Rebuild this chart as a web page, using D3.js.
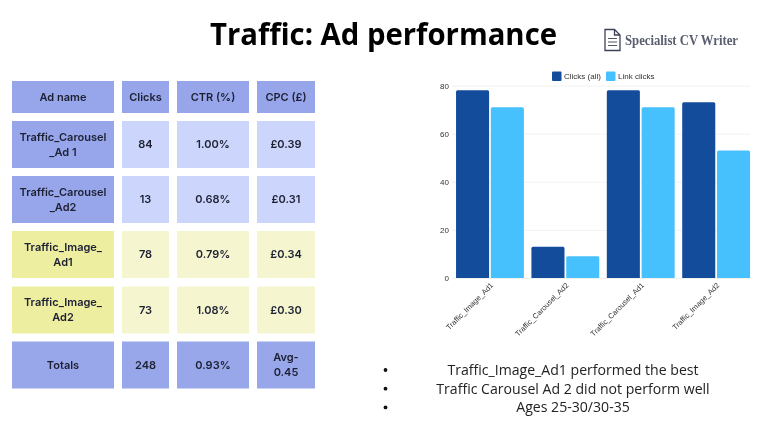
<!DOCTYPE html>
<html>
<head>
<meta charset="utf-8">
<script src="https://cdn.jsdelivr.net/npm/d3@7/dist/d3.min.js"></script>
<style>
  html, body { margin: 0; padding: 0; background: #fff; }
  svg { display: block; filter: blur(0.35px); }
  text { font-family: "Inter", "Open Sans", sans-serif; }
</style>
</head>
<body>
<script>
var titleText = "Traffic: Ad performance";
var logoText = "Specialist CV Writer";

// table
var tableHead = ["Ad name", "Clicks", "CTR (%)", "CPC (£)"];
var adNames = [["Traffic_Carousel", "_Ad 1"], ["Traffic_Carousel", "_Ad2"], ["Traffic_Image_", "Ad1"], ["Traffic_Image_", "Ad2"], ["Totals"]];
var clicks = ["84", "13", "78", "73", "248"];
var ctr = ["1.00%", "0.68%", "0.79%", "1.08%", "0.93%"];
var cpc = [["£0.39"], ["£0.31"], ["£0.34"], ["£0.30"], ["Avg-", "0.45"]];
var rowKind = ["blue", "blue", "yellow", "yellow", "total"];

// chart
var categories = ["Traffic_Image_Ad1", "Traffic_Carousel_Ad2", "Traffic_Carousel_Ad1", "Traffic_Image_Ad2"];
var seriesNames = ["Clicks (all)", "Link clicks"];
var clicksAll = [78, 13, 78, 73];
var linkClicks = [71, 9, 71, 53];
var yTicks = [0, 20, 40, 60, 80];

var notes = ["Traffic_Image_Ad1 performed the best", "Traffic Carousel Ad 2 did not perform well", "Ages 25-30/30-35"];

var svg = d3.select("body").append("svg").attr("width", 768).attr("height", 432);

svg.append("text")
  .attr("x", 210).attr("y", 45)
  .style("font-family", "'Open Sans'")
  .style("font-size", "31px").style("font-weight", 700)
  .attr("fill", "#000")
  .attr("textLength", 347).attr("lengthAdjust", "spacingAndGlyphs")
  .text(titleText);

// logo
var logo = svg.append("g").attr("fill", "none").attr("stroke", "#3d4357").attr("stroke-width", 1.3);
logo.append("path").attr("d", "M605 29.5 H614.5 L620 35 V50.5 H605 Z M614.5 29.5 V35 H620");
logo.append("path").attr("d", "M608 38.5 H617 M608 42 H617 M608 45.5 H617").attr("stroke-width", 0.9);
svg.append("text")
  .attr("x", 625).attr("y", 45)
  .style("font-family", "'Liberation Serif'")
  .style("font-size", "14.5px").style("font-weight", 700).attr("fill", "#5a5f70")
  .attr("textLength", 113).attr("lengthAdjust", "spacingAndGlyphs")
  .text(logoText);

// table layout
var colX = [12, 122, 177, 257], colW = [102, 47, 72, 58];
var rowY = [121, 176, 231, 286.5, 341.5], rowH = [47, 47, 47, 47, 47];
var cellColors = {
  blue: ["#97a6ea", "#ccd5fb"],
  yellow: ["#eeeea0", "#f5f6cf"],
  total: ["#98a6ea", "#98a6ea"]
};

function drawCell(x, y, w, h, fill, lines) {
  svg.append("rect").attr("x", x).attr("y", y).attr("width", w).attr("height", h).attr("fill", fill);
  var lh = 15;
  lines.forEach(function(line, i) {
    svg.append("text")
      .attr("x", x + w / 2)
      .attr("y", y + h / 2 + (i - (lines.length - 1) / 2) * lh)
      .attr("dy", "0.35em")
      .attr("text-anchor", "middle")
      .style("font-size", "11px").style("font-weight", 600)
      .attr("fill", "#1d2033")
      .text(line);
  });
}

tableHead.forEach(function(h, c) {
  drawCell(colX[c], 81, colW[c], 32, "#97a6ea", [h]);
});
adNames.forEach(function(name, r) {
  var colors = cellColors[rowKind[r]];
  drawCell(colX[0], rowY[r], colW[0], rowH[r], colors[0], name);
  drawCell(colX[1], rowY[r], colW[1], rowH[r], colors[1], [clicks[r]]);
  drawCell(colX[2], rowY[r], colW[2], rowH[r], colors[1], [ctr[r]]);
  drawCell(colX[3], rowY[r], colW[3], rowH[r], colors[1], cpc[r]);
});

// bar chart
var x0 = d3.scaleBand().domain(categories).range([448.5, 757.6]).padding(0.1);
var x1 = d3.scaleBand().domain(seriesNames).range([0, x0.bandwidth()]).paddingInner(0.05);
var y = d3.scaleLinear().domain([0, 80]).range([278, 85.5]);
var colors = d3.scaleOrdinal().domain(seriesNames).range(["#124c9b", "#46c1fd"]);

var chart = svg.append("g");
var grid = d3.axisLeft(y).tickValues(yTicks).tickSize(-298).tickFormat(d3.format("d"));
var gAxis = chart.append("g").attr("transform", "translate(452,0)").call(grid);
gAxis.select(".domain").remove();
gAxis.selectAll("line").attr("stroke", "#f2f2f2");
gAxis.selectAll("text").attr("x", -3).attr("fill", "#333").style("font-size", "8px").style("font-family", "'Liberation Sans'");

var series = [clicksAll, linkClicks];
series.forEach(function(vals, s) {
  chart.selectAll(".bar" + s).data(vals).enter().append("path")
    .attr("fill", colors(seriesNames[s]))
    .attr("d", function(d, i) {
      var l = x0(categories[i]) + x1(seriesNames[s]), r = l + x1.bandwidth(), t = y(d), b = y(0);
      return "M" + l + " " + b + "V" + (t + 1.5) + "Q" + l + " " + t + " " + (l + 1.5) + " " + t +
        "H" + (r - 1.5) + "Q" + r + " " + t + " " + r + " " + (t + 1.5) + "V" + b + "Z";
    });
});

var gx = chart.append("g").attr("transform", "translate(0,278)").call(d3.axisBottom(x0).tickSize(0));
gx.select(".domain").remove();
gx.selectAll("text")
  .attr("text-anchor", "end")
  .attr("transform", "translate(2,6) rotate(-45)")
  .attr("y", 0).attr("dy", "0.35em")
  .attr("fill", "#333")
  .style("font-size", "7.5px").style("font-family", "'Liberation Sans'");

// legend
var legendX = [552, 606];
seriesNames.forEach(function(n, i) {
  chart.append("rect").attr("x", legendX[i]).attr("y", 71.5).attr("width", 9.5).attr("height", 9.5).attr("rx", 1).attr("fill", colors(n));
  chart.append("text").attr("x", legendX[i] + 12).attr("y", 76).attr("dy", "0.35em")
    .attr("fill", "#333").style("font-size", "8px").style("font-family", "'Liberation Sans'").text(n);
});

// notes
notes.forEach(function(t, i) {
  var ny = 370 + i * 18.7;
  svg.append("circle").attr("cx", 385.5).attr("cy", ny).attr("r", 1.9).attr("fill", "#111");
  svg.append("text")
    .attr("x", 573).attr("y", ny).attr("dy", "0.35em")
    .attr("text-anchor", "middle")
    .style("font-family", "'Open Sans'").style("font-size", "14.1px")
    .attr("fill", "#222")
    .text(t);
});
</script>
</body>
</html>
